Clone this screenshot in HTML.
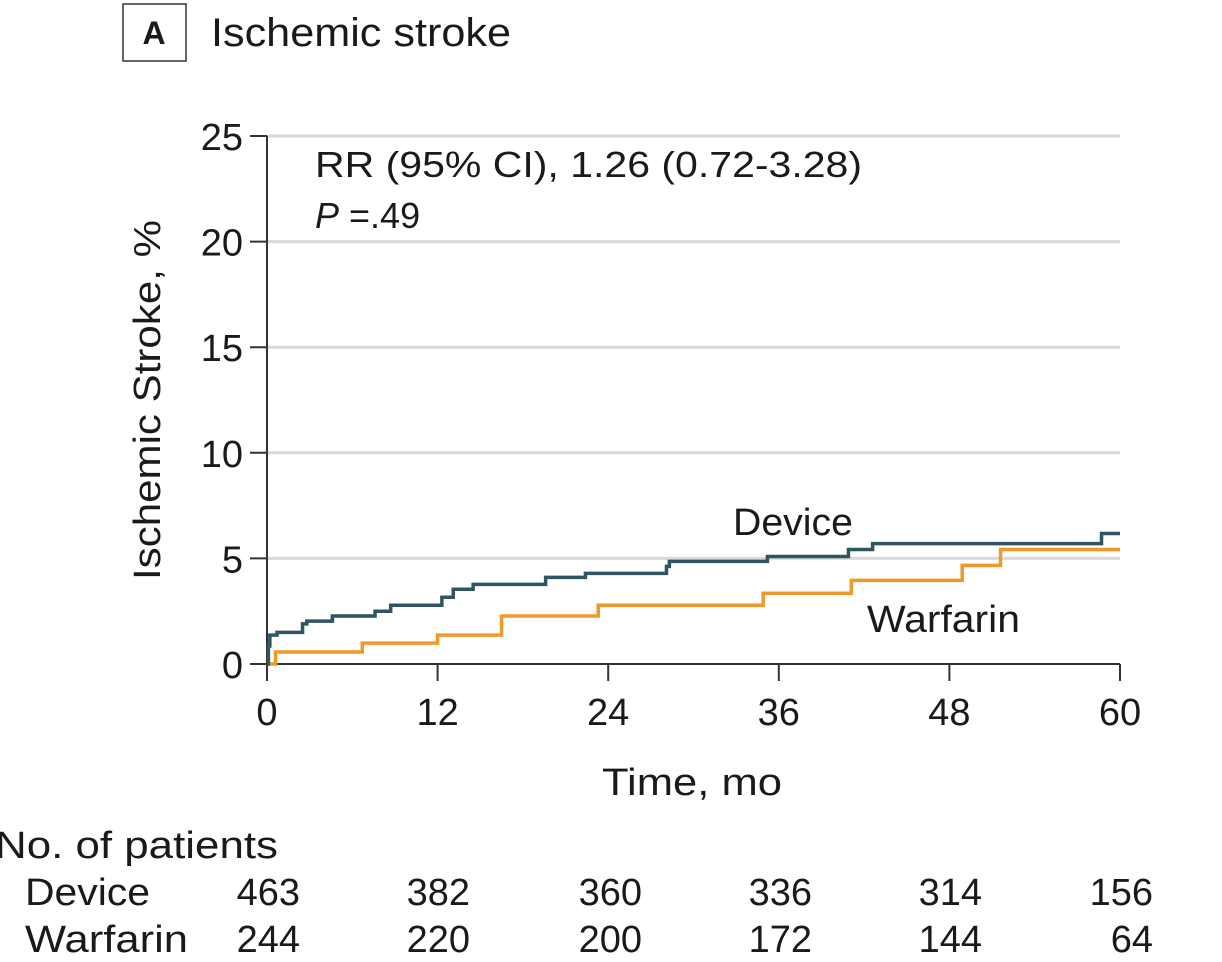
<!DOCTYPE html>
<html><head><meta charset="utf-8"><style>
html,body{margin:0;padding:0;background:#fff;}
svg{display:block;font-family:"Liberation Sans",sans-serif;fill:#1a1a1a;}
</style></head><body>
<svg id="chart" width="1222" height="962" viewBox="0 0 1222 962">
<rect x="123" y="4" width="63" height="57" fill="none" stroke="#333" stroke-width="1.5"/>
<text x="154" y="44" font-size="32" font-weight="bold" text-anchor="middle">A</text>
<text x="211" y="46" font-size="40" textLength="300" lengthAdjust="spacingAndGlyphs">Ischemic stroke</text>
<g id="grid"></g>
<g id="axes"></g>
<g id="series"></g>
<text x="315" y="177" font-size="36" textLength="547" lengthAdjust="spacingAndGlyphs">RR (95% CI), 1.26 (0.72-3.28)</text>
<text x="315" y="228" font-size="36"><tspan font-style="italic">P</tspan> =.49</text>
<text x="733" y="535" font-size="38" textLength="120" lengthAdjust="spacingAndGlyphs">Device</text>
<text x="867" y="632" font-size="38" textLength="153" lengthAdjust="spacingAndGlyphs">Warfarin</text>
<text transform="translate(160,400) rotate(-90)" font-size="38" text-anchor="middle" textLength="360" lengthAdjust="spacingAndGlyphs">Ischemic Stroke, %</text>
<text x="692" y="795" font-size="38" text-anchor="middle" textLength="180" lengthAdjust="spacingAndGlyphs">Time, mo</text>
<text x="-5" y="858" font-size="38" textLength="283" lengthAdjust="spacingAndGlyphs">No. of patients</text>
<text x="25" y="905" font-size="38" textLength="125" lengthAdjust="spacingAndGlyphs">Device</text>
<text x="25" y="952" font-size="38" textLength="163" lengthAdjust="spacingAndGlyphs">Warfarin</text>
<g id="risk"></g>
</svg>
<script>
const yTicks=[0,5,10,15,20,25];
const xTicks=[0,12,24,36,48,60];
const deviceT=[0,0.1,0.2,0.7,2.5,2.8,4.6,7.6,8.7,12.3,13.1,14.5,19.6,22.4,28.1,28.3,35.2,40.9,42.6,58.7];
const deviceV=[0,0.85,1.37,1.5,1.9,2.03,2.27,2.5,2.78,3.16,3.54,3.77,4.1,4.29,4.62,4.86,5.09,5.42,5.7,6.18];
const warfT=[0,0.6,6.7,12.0,16.5,23.3,34.9,41.1,48.9,51.6];
const warfV=[0,0.57,0.99,1.37,2.27,2.78,3.35,3.96,4.67,5.42];
const riskDevice=[463,382,360,336,314,156];
const riskWarfarin=[244,220,200,172,144,64];
const NS="http://www.w3.org/2000/svg";
const X0=267,X1=1120,Y0=664,Y1=136;
const sx=t=>X0+(X1-X0)*t/60, sy=v=>Y0-(Y0-Y1)*v/25;
function mk(tag,attrs,parent){const e=document.createElementNS(NS,tag);for(const k in attrs)e.setAttribute(k,attrs[k]);document.getElementById(parent).appendChild(e);return e;}
yTicks.forEach(v=>{
 if(v>0){const g=mk('line',{x1:X0,x2:X1,y1:sy(v),y2:sy(v),stroke:'#d9d9d9','stroke-width':3},'grid');
 
 }
 const t=mk('line',{x1:250,x2:X0,y1:sy(v),y2:sy(v),stroke:'#333','stroke-width':2},'axes');
 
 
 const l=mk('text',{x:243,y:sy(v)+14,'font-size':38,'text-anchor':'end'},'axes');l.textContent=v;
 
 
});
const ya=mk('line',{x1:X0,x2:X0,y1:Y1,y2:Y0,stroke:'#333','stroke-width':2},'axes');


const xa=mk('line',{x1:X0,x2:X1,y1:Y0,y2:Y0,stroke:'#333','stroke-width':2},'axes');


xTicks.forEach(v=>{
 const t=mk('line',{x1:sx(v),x2:sx(v),y1:Y0,y2:Y0+17,stroke:'#333','stroke-width':2},'axes');
 
 
 const l=mk('text',{x:sx(v),y:725,'font-size':38,'text-anchor':'middle'},'axes');l.textContent=v;
 
 
});
function step(T,V,color,name){
 let d='M'+sx(T[0])+','+sy(V[0]);
 for(let i=1;i<T.length;i++){d+=' H'+sx(T[i])+' V'+sy(V[i]);}
 d+=' H'+sx(60);
 const p=mk('path',{d:d,fill:'none',stroke:color,'stroke-width':3.5},'series');
 
 
}
step(warfT,warfV,'#f0992a','warfarin-curve');
step(deviceT,deviceV,'#2f5562','device-curve');
const riskX=[300,470,642,812,982,1153];
riskDevice.forEach((v,i)=>{const t=mk('text',{x:riskX[i],y:905,'font-size':38,'text-anchor':'end'},'risk');t.textContent=v;
 
 });
riskWarfarin.forEach((v,i)=>{const t=mk('text',{x:riskX[i],y:952,'font-size':38,'text-anchor':'end'},'risk');t.textContent=v;
 
 });
</script>
</body></html>
